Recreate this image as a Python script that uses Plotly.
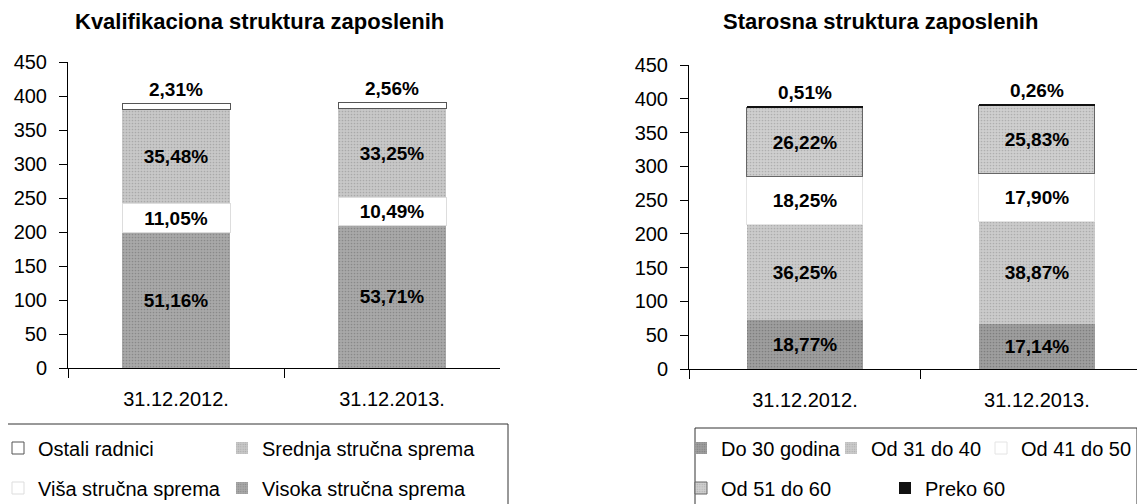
import plotly.graph_objects as go

# stranica ima 8px margine oko grafikona
W, H = 1137, 496
OFF = 8

datumi = ["31.12.2012.", "31.12.2013."]

# Kvalifikaciona struktura - broj zaposlenih (od dna stuba ka vrhu)
visoka = [199, 210]
visa = [43, 41]
srednja = [138, 130]
ostali = [9, 10]

# Starosna struktura - broj zaposlenih (od dna stuba ka vrhu)
do_30 = [73, 67]
od_31_40 = [141, 152]
od_41_50 = [71, 70]
od_51_60 = [102, 101]
preko_60 = [2, 1]

y_tickovi = [0, 50, 100, 150, 200, 250, 300, 350, 400, 450]

FONT = "Liberation Sans, Arial, sans-serif"


def fx(p):
    return (p - OFF) / W


def fy(p):
    return (H - (p - OFF)) / H


def procenti(serija, sve):
    ukupno = [sum(v) for v in zip(*sve)]
    return [f"{v / u * 100:.2f}%".replace(".", ",") for v, u in zip(serija, ukupno)]


kval = [visoka, visa, srednja, ostali]
star = [do_30, od_31_40, od_41_50, od_51_60, preko_60]


def stub(name, vals, grupa, boja, xa, ya, legenda, tacke=None, linija=None, spolja=False):
    pattern = dict(shape="")
    if tacke:
        pattern = dict(shape=".", fgcolor=tacke, bgcolor=boja, size=3, solidity=0.25)
    return go.Bar(
        name=name,
        x=datumi,
        y=vals,
        xaxis=xa,
        yaxis=ya,
        legend=legenda,
        showlegend=True,
        width=0.5,
        text=procenti(vals, grupa),
        textposition="outside" if spolja else "inside",
        insidetextanchor="middle",
        textangle=0,
        constraintext="none",
        cliponaxis=False,
        textfont=dict(family=FONT, size=19, color="black", weight="bold"),
        marker=dict(
            color=boja,
            pattern=pattern,
            line=dict(color=linija or boja, width=1 if linija else 0),
        ),
        hoverinfo="skip",
    )


fig = go.Figure()

# levi grafikon
fig.add_trace(stub("Visoka stručna sprema", visoka, kval, "#a8a8a8", "x", "y", "legend4", tacke="#6a6a6a"))
fig.add_trace(stub("Viša stručna sprema", visa, kval, "white", "x", "y", "legend3", linija="#dddddd"))
fig.add_trace(stub("Srednja stručna sprema", srednja, kval, "#c8c8c8", "x", "y", "legend2", tacke="#8a8a8a"))
fig.add_trace(stub("Ostali radnici", ostali, kval, "white", "x", "y", "legend", linija="#555555", spolja=True))

# desni grafikon
fig.add_trace(stub("Do 30 godina", do_30, star, "#9e9e9e", "x2", "y2", "legend5", tacke="#5e5e5e"))
fig.add_trace(stub("Od 31 do 40", od_31_40, star, "#cbcbcb", "x2", "y2", "legend6", tacke="#8e8e8e"))
fig.add_trace(stub("Od 41 do 50", od_41_50, star, "white", "x2", "y2", "legend7", linija="#e4e4e4"))
fig.add_trace(stub("Od 51 do 60", od_51_60, star, "#cfcfcf", "x2", "y2", "legend8", tacke="#909090", linija="#666666"))
fig.add_trace(stub("Preko 60", preko_60, star, "#111111", "x2", "y2", "legend9", spolja=True))

osa_x = dict(
    type="category",
    showline=True,
    linecolor="black",
    linewidth=1,
    ticks="outside",
    tickson="boundaries",
    ticklen=9,
    tickcolor="black",
    showgrid=False,
    ticklabelstandoff=13,
    tickfont=dict(family=FONT, size=20, color="black"),
)
osa_y = dict(
    range=[0, 450],
    tickvals=y_tickovi,
    showline=True,
    linecolor="black",
    linewidth=1,
    ticks="outside",
    ticklen=8,
    tickcolor="black",
    showgrid=False,
    zeroline=False,
    ticklabelstandoff=8,
    tickfont=dict(family=FONT, size=20, color="black"),
)


def leg(x, y):
    return dict(
        x=fx(x),
        y=fy(y),
        orientation="h",
        xanchor="left",
        yanchor="middle",
        bgcolor="rgba(0,0,0,0)",
        borderwidth=0,
        itemwidth=30,
        itemclick=False,
        font=dict(family=FONT, size=20, color="black"),
    )


fig.update_layout(
    width=W,
    height=H,
    barmode="stack",
    showlegend=True,
    margin=dict(l=0, r=0, t=0, b=0, autoexpand=False),
    plot_bgcolor="white",
    paper_bgcolor="white",
    font=dict(family=FONT, size=20, color="black"),
    xaxis=dict(osa_x, domain=[fx(68), fx(500)], range=[-0.5, 1.5], anchor="y"),
    yaxis=dict(osa_y, domain=[fy(368), fy(62)], anchor="x"),
    xaxis2=dict(osa_x, domain=[fx(689), 1.0], range=[-0.5, 1.466], anchor="y2"),
    yaxis2=dict(osa_y, domain=[fy(369), fy(65)], anchor="x2"),
    # legende: levi okvir 2x2, desni okvir 3+2
    legend=leg(-2, 448),
    legend2=leg(222, 448),
    legend3=leg(-2, 488),
    legend4=leg(222, 488),
    legend5=leg(681, 448),
    legend6=leg(831, 448),
    legend7=leg(981, 448),
    legend8=leg(681, 488),
    legend9=leg(885, 488),
    annotations=[
        dict(text="<b>Kvalifikaciona struktura zaposlenih</b>", x=fx(259), y=fy(22),
             xref="paper", yref="paper", xanchor="center", yanchor="middle",
             showarrow=False, font=dict(family=FONT, size=22)),
        dict(text="<b>Starosna struktura zaposlenih</b>", x=fx(880), y=fy(22),
             xref="paper", yref="paper", xanchor="center", yanchor="middle",
             showarrow=False, font=dict(family=FONT, size=22)),
    ],
    shapes=[
        dict(type="rect", xref="paper", yref="paper", x0=fx(5), x1=fx(508),
             y0=fy(424), y1=fy(520), line=dict(color="#333333", width=1)),
        dict(type="rect", xref="paper", yref="paper", x0=fx(695), x1=fx(1137),
             y0=fy(428), y1=fy(520), line=dict(color="#333333", width=1)),
    ],
)

fig.write_html("out.html")
